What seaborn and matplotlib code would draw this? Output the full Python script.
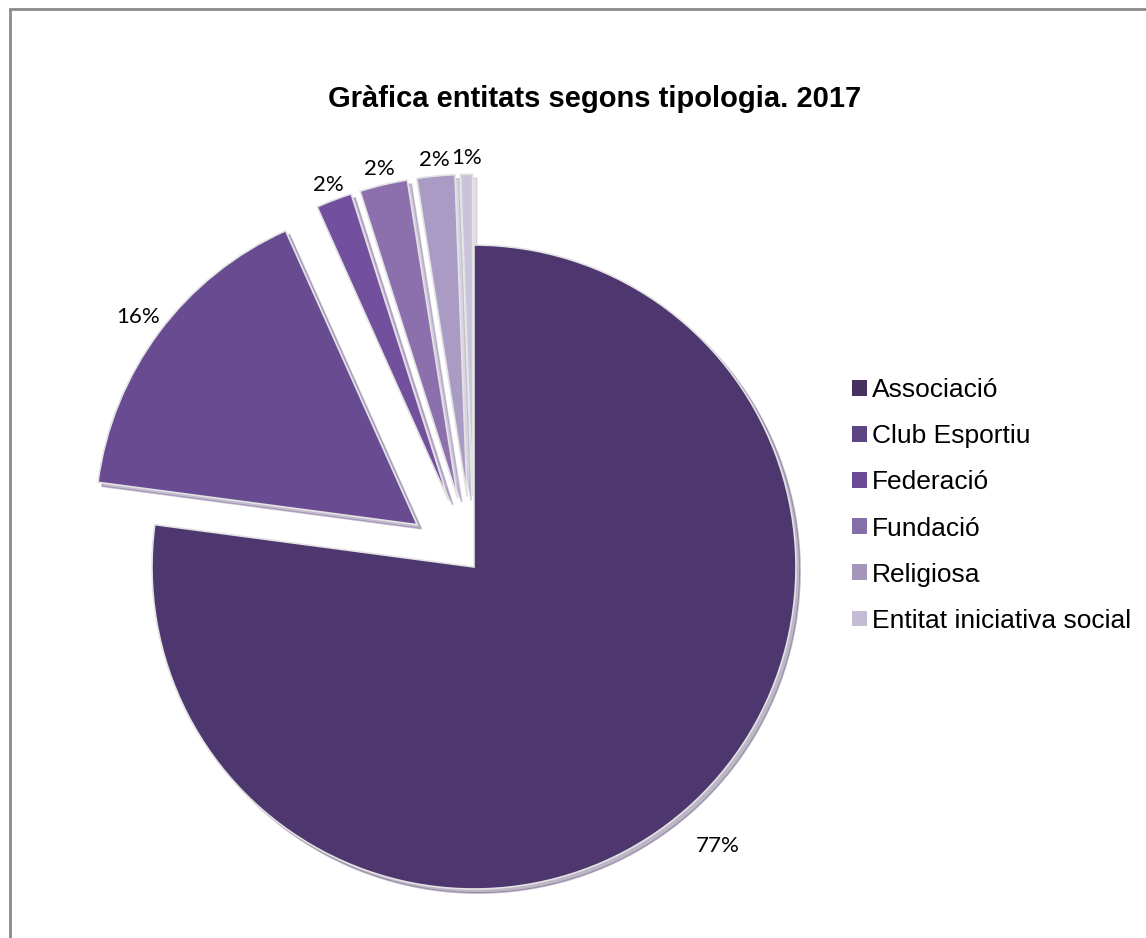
import matplotlib
matplotlib.use("Agg")
import matplotlib.pyplot as plt
import seaborn as sns
import numpy as np
from matplotlib.patches import Rectangle

categories = ["Associació", "Club Esportiu", "Federació", "Fundació",
              "Religiosa", "Entitat iniciativa social"]
values = [77.1, 16.2, 1.8, 2.4, 1.9, 0.6]
title = "Gràfica entitats segons tipologia. 2017"

colors = ["#4e376f", "#684b91", "#73509e", "#8b70ad", "#aa9bc4", "#cbc2dc"]
legend_colors = ["#47305f", "#5d4482", "#6c4a98", "#8470a6", "#a495bb", "#c4bcd3"]
explode = [0, 0.22, 0.22, 0.22, 0.22, 0.22]
label_dist = [1.15, 1.08, 1.05, 1.05, 1.05, 1.05]

sns.set_theme(style="white")
plt.rcParams['font.family'] = ['Liberation Sans', 'DejaVu Sans']

W, H = 1146, 938
fig = plt.figure(figsize=(W / 100, H / 100), dpi=100)
fig.patch.set_facecolor("white")

# pie axes: center at pixel (474, 567), radius 322 px
cx, cy, R = 474, 567, 322
ax = fig.add_axes([0, 0, 1, 1])
pal = sns.color_palette(colors)
wedges, texts, autotexts = ax.pie(
    values, colors=pal, startangle=90, counterclock=False,
    explode=explode, autopct="%.0f%%", pctdistance=1.065,
    shadow=dict(ox=0.009, oy=-0.009, shade=0.15, alpha=0.35),
    wedgeprops=dict(edgecolor="#e3e3e3", linewidth=1.2),
    textprops=dict(fontsize=16, color="black", family=["Lato", "DejaVu Sans"]),
)
# per-slice label distance along each wedge's bisector
for w, t, d in zip(wedges, autotexts, label_dist):
    ang = np.deg2rad((w.theta1 + w.theta2) / 2)
    x0, y0 = w.center
    t.set_position((x0 + d * w.r * np.cos(ang), y0 + d * w.r * np.sin(ang)))

ax.set_aspect("auto")
ax.set_xlim(-cx / R, (W - cx) / R)
ax.set_ylim(-(H - cy) / R, cy / R)
ax.axis("off")

# frame
fig.add_artist(Rectangle((10 / W, -0.05), 1.2, (H - 9) / H + 0.05,
                         transform=fig.transFigure, fill=False,
                         edgecolor="#8a8a8a", linewidth=2))

fig.text(595 / W, 1 - 99 / H, title, ha="center", va="center",
         fontsize=21, fontweight="bold", color="black")

handles = [Rectangle((0, 0), 1, 1, facecolor=c, edgecolor="none") for c in legend_colors]
leg = fig.legend(handles, categories, loc="upper left",
                 bbox_to_anchor=(852 / W, 1 - 378 / H), frameon=False,
                 fontsize=19, handlelength=0.55, handleheight=0.55,
                 handletextpad=0.22, labelspacing=0.84, borderpad=0, borderaxespad=0)
for t in leg.get_texts():
    t.set_color("black")

fig.savefig("out.png", dpi=100)
